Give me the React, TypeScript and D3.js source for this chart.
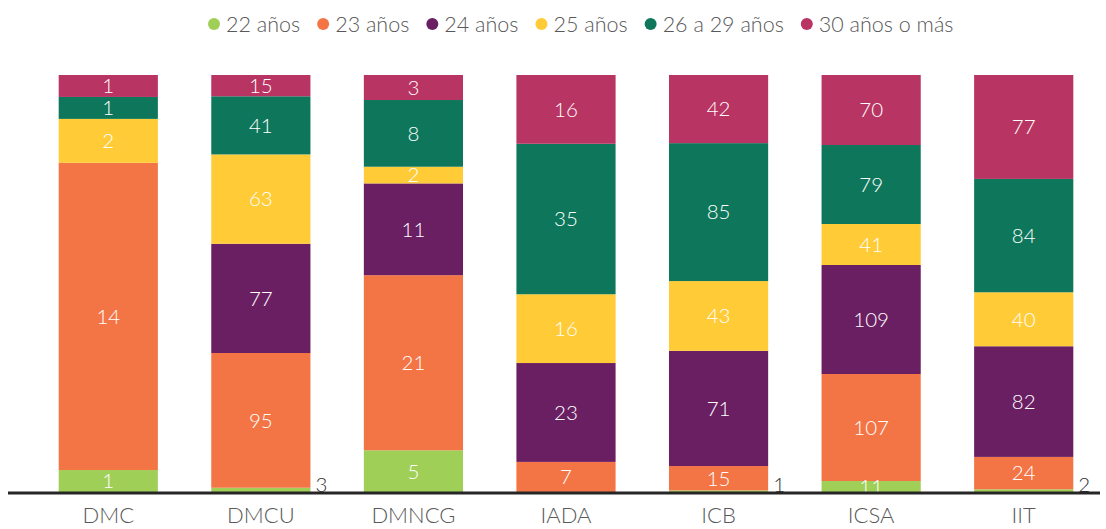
import React, { useEffect, useRef } from 'react';
import * as d3 from 'd3';

const width = 1106;
const height = 529;
const margin = { top: 75, right: 6, bottom: 37, left: 32 };

const categories = ['DMC', 'DMCU', 'DMNCG', 'IADA', 'ICB', 'ICSA', 'IIT'];
const seriesNames = ['22 años', '23 años', '24 años', '25 años', '26 a 29 años', '30 años o más'];
const colors = ['#a0cf57', '#f37546', '#6a1f63', '#ffcb37', '#0e775b', '#b83462'];

const age22 = [1, 3, 5, 0, 1, 11, 2];
const age23 = [14, 95, 21, 7, 15, 107, 24];
const age24 = [0, 77, 11, 23, 71, 109, 82];
const age25 = [2, 63, 2, 16, 43, 41, 40];
const age26to29 = [1, 41, 8, 35, 85, 79, 84];
const age30plus = [1, 15, 3, 16, 42, 70, 77];

const seriesValues = [age22, age23, age24, age25, age26to29, age30plus];

const font = 'Lato, "Open Sans", sans-serif';

export default function App() {
    const ref = useRef<SVGSVGElement>(null);

    useEffect(() => {
        document.body.style.margin = '0';
        const svg = d3.select(ref.current);
        svg.selectAll('*').remove();

        const rows = categories.map((c, i) => {
            const row: any = { name: c };
            seriesNames.forEach((s, j) => { row[s] = seriesValues[j][i]; });
            return row;
        });

        const stack = d3.stack().keys(seriesNames).offset(d3.stackOffsetExpand);
        const layers = stack(rows);

        const x = d3.scaleBand()
            .domain(categories)
            .range([margin.left, width - margin.right])
            .paddingInner(0.35)
            .paddingOuter(0.175);
        const y = d3.scaleLinear().domain([0, 1]).range([height - margin.bottom, margin.top]);
        const color = d3.scaleOrdinal<string>().domain(seriesNames).range(colors);

        const g = svg.append('g');
        layers.forEach((layer, j) => {
            const lg = g.append('g').attr('fill', color(layer.key));
            layer.forEach((d, i) => {
                const v = seriesValues[j][i];
                if (!v) return;
                lg.append('rect')
                    .attr('x', x(categories[i])!)
                    .attr('y', y(d[1]))
                    .attr('width', x.bandwidth())
                    .attr('height', y(d[0]) - y(d[1]));
            });
        });

        // value labels
        const lab = svg.append('g').style('font-family', font).style('font-weight', 300).style('font-size', '20.5px');
        layers.forEach((layer, j) => {
            layer.forEach((d, i) => {
                const v = seriesValues[j][i];
                if (!v) return;
                const x0 = x(categories[i])!;
                const y0 = y(d[1]);
                const h = y(d[0]) - y(d[1]);
                if (h >= 8) {
                    lab.append('text')
                        .attr('x', x0 + x.bandwidth() / 2)
                        .attr('y', y0 + h / 2)
                        .attr('dy', '0.36em')
                        .attr('text-anchor', 'middle')
                        .attr('fill', '#fff')
                        .text(v);
                } else {
                    lab.append('text')
                        .attr('x', x0 + x.bandwidth() + 5)
                        .attr('y', y0 + h)
                        .attr('text-anchor', 'start')
                        .attr('fill', '#333')
                        .text(v);
                }
            });
        });

        // baseline
        svg.append('line')
            .attr('x1', 8)
            .attr('x2', width - margin.right)
            .attr('y1', y(0) + 1)
            .attr('y2', y(0) + 1)
            .attr('stroke', '#262626')
            .attr('stroke-width', 3);

        // category labels
        svg.append('g')
            .selectAll('text')
            .data(categories)
            .enter()
            .append('text')
            .attr('x', d => x(d)! + x.bandwidth() / 2)
            .attr('y', 523)
            .attr('text-anchor', 'middle')
            .attr('fill', '#595959')
            .style('font-family', font)
            .style('font-weight', 300)
            .style('font-size', '22px')
            .text(d => d);

        // legend
        const leg = svg.append('g').style('font-family', font).style('font-weight', 300).style('font-size', '21.5px');
        let cx = 214;
        seriesNames.forEach(s => {
            const it = leg.append('g').attr('transform', `translate(${cx}, 0)`);
            it.append('circle').attr('r', 6).attr('cx', 0).attr('cy', 24).attr('fill', color(s));
            const t = it.append('text').attr('x', 12).attr('y', 31.5).attr('fill', '#595959').text(s);
            cx += (t.node() as SVGTextElement).getComputedTextLength() + 12 + 23;
        });
    }, []);

    return (
        <svg ref={ref} width={width} height={height} style={{ display: 'block' }}></svg>
    );
}
